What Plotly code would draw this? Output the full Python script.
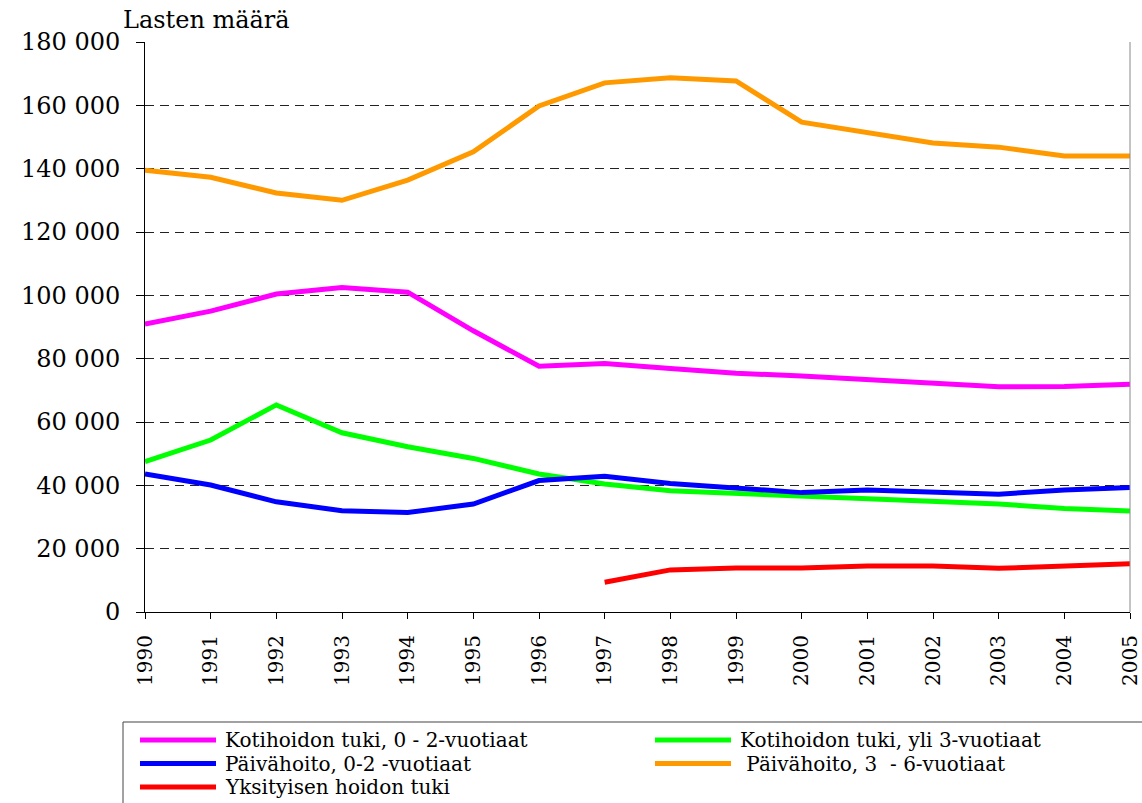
import plotly.graph_objects as go

years = list(range(1990, 2006))
kotihoito_0_2 = [90900, 95000, 100400, 102500, 101000, 88800, 77600, 78500,
                 76900, 75400, 74500, 73300, 72400, 71100, 71200, 71900]
kotihoito_yli3 = [47500, 54300, 65400, 56600, 52200, 48500, 43600, 40400,
                  38300, 37500, 36400, 35600, 34800, 34100, 32700, 31900]
paivahoito_0_2 = [43600, 40100, 34800, 32000, 31400, 34100, 41500, 42900,
                  40600, 39300, 37700, 38500, 37900, 37200, 38500, 39300]
paivahoito_3_6 = [139500, 137300, 132300, 130000, 136400, 145300, 159800, 167100,
                  168700, 167700, 154700, 151300, 148100, 146800, 144000, 144000]
yksityinen_years = list(range(1997, 2006))
yksityinen = [9400, 13300, 13900, 13900, 14500, 14500, 13800, 14500, 15200]

names = ["Kotihoidon tuki, 0 - 2-vuotiaat", "Kotihoidon tuki, yli 3-vuotiaat",
         "Päivähoito, 0-2 -vuotiaat", " Päivähoito, 3  - 6-vuotiaat",
         "Yksityisen hoidon tuki"]
colors = ["#FF00FF", "#00FF00", "#0000FF", "#FF9900", "#FF0000"]
series = [(years, kotihoito_0_2), (years, kotihoito_yli3), (years, paivahoito_0_2),
          (years, paivahoito_3_6), (yksityinen_years, yksityinen)]

FONT = "DejaVu Serif"
W, H = 1142, 803
ML, MR, MT, MB = 145, 12, 42, 191
PW, PH = W - ML - MR, H - MT - MB


def px_x(px):
    return (px - ML) / PW


def px_y(py):
    return (H - MB - py) / PH


fig = go.Figure()
for name, color, (xs, ys) in zip(names, colors, series):
    fig.add_trace(go.Scatter(x=xs, y=ys, name=name, mode="lines",
                             line=dict(color=color, width=5), showlegend=False))

# legend (drawn manually to match the boxed two-column layout)
legend_slots = [(140, 740), (655, 740), (140, 763.5), (655, 763.5), (140, 787)]
shapes = [
    dict(type="line", xref="paper", yref="paper", x0=1, x1=1, y0=0, y1=1,
         line=dict(color="#888888", width=1)),
    dict(type="rect", xref="paper", yref="paper", x0=px_x(123), x1=px_x(1160),
         y0=px_y(722), y1=px_y(830), line=dict(color="#444444", width=1),
         fillcolor="white", layer="above"),
]
annotations = [dict(text="Lasten määrä", xref="paper", yref="paper",
                    x=px_x(121), y=px_y(20), xanchor="left", yanchor="middle",
                    showarrow=False, font=dict(family=FONT, size=24, color="black"))]
for name, color, (lx, ly) in zip(names, colors, legend_slots):
    shapes.append(dict(type="line", xref="paper", yref="paper",
                       x0=px_x(lx), x1=px_x(lx + 76), y0=px_y(ly), y1=px_y(ly),
                       line=dict(color=color, width=5), layer="above"))
    annotations.append(dict(text=name, xref="paper", yref="paper",
                            x=px_x(lx + 83), y=px_y(ly), xanchor="left",
                            yanchor="middle", showarrow=False,
                            font=dict(family=FONT, size=20, color="black")))

fig.update_layout(
    width=W, height=H,
    margin=dict(l=ML, r=MR, t=MT, b=MB, autoexpand=False),
    paper_bgcolor="white", plot_bgcolor="white",
    separators=", ",
    font=dict(family=FONT, color="black", size=22),
    showlegend=False,
    xaxis=dict(range=[1990, 2005], tickmode="array", tickvals=years,
               ticktext=[str(y) for y in years], tickangle=-90,
               showgrid=False, showline=True, linecolor="black", linewidth=1,
               ticks="outside", ticklen=6, tickcolor="black", automargin=False,
               ticklabelstandoff=8, ticklabeloverflow="allow",
               tickfont=dict(family=FONT, size=20), zeroline=False),
    yaxis=dict(range=[0, 180000], tickmode="linear", tick0=0, dtick=20000,
               tickformat=",d", showgrid=True, gridcolor="#222222", gridwidth=1,
               griddash="9px,6px", showline=True, linecolor="black", linewidth=1,
               ticks="outside", ticklen=8, tickcolor="black", automargin=False,
               ticklabelstandoff=11, ticklabeloverflow="allow",
               tickfont=dict(family=FONT, size=24), zeroline=False),
    annotations=annotations,
    shapes=shapes,
)

fig.write_html("out.html", config={"displayModeBar": False},
               post_script="document.body.style.margin='0';")
